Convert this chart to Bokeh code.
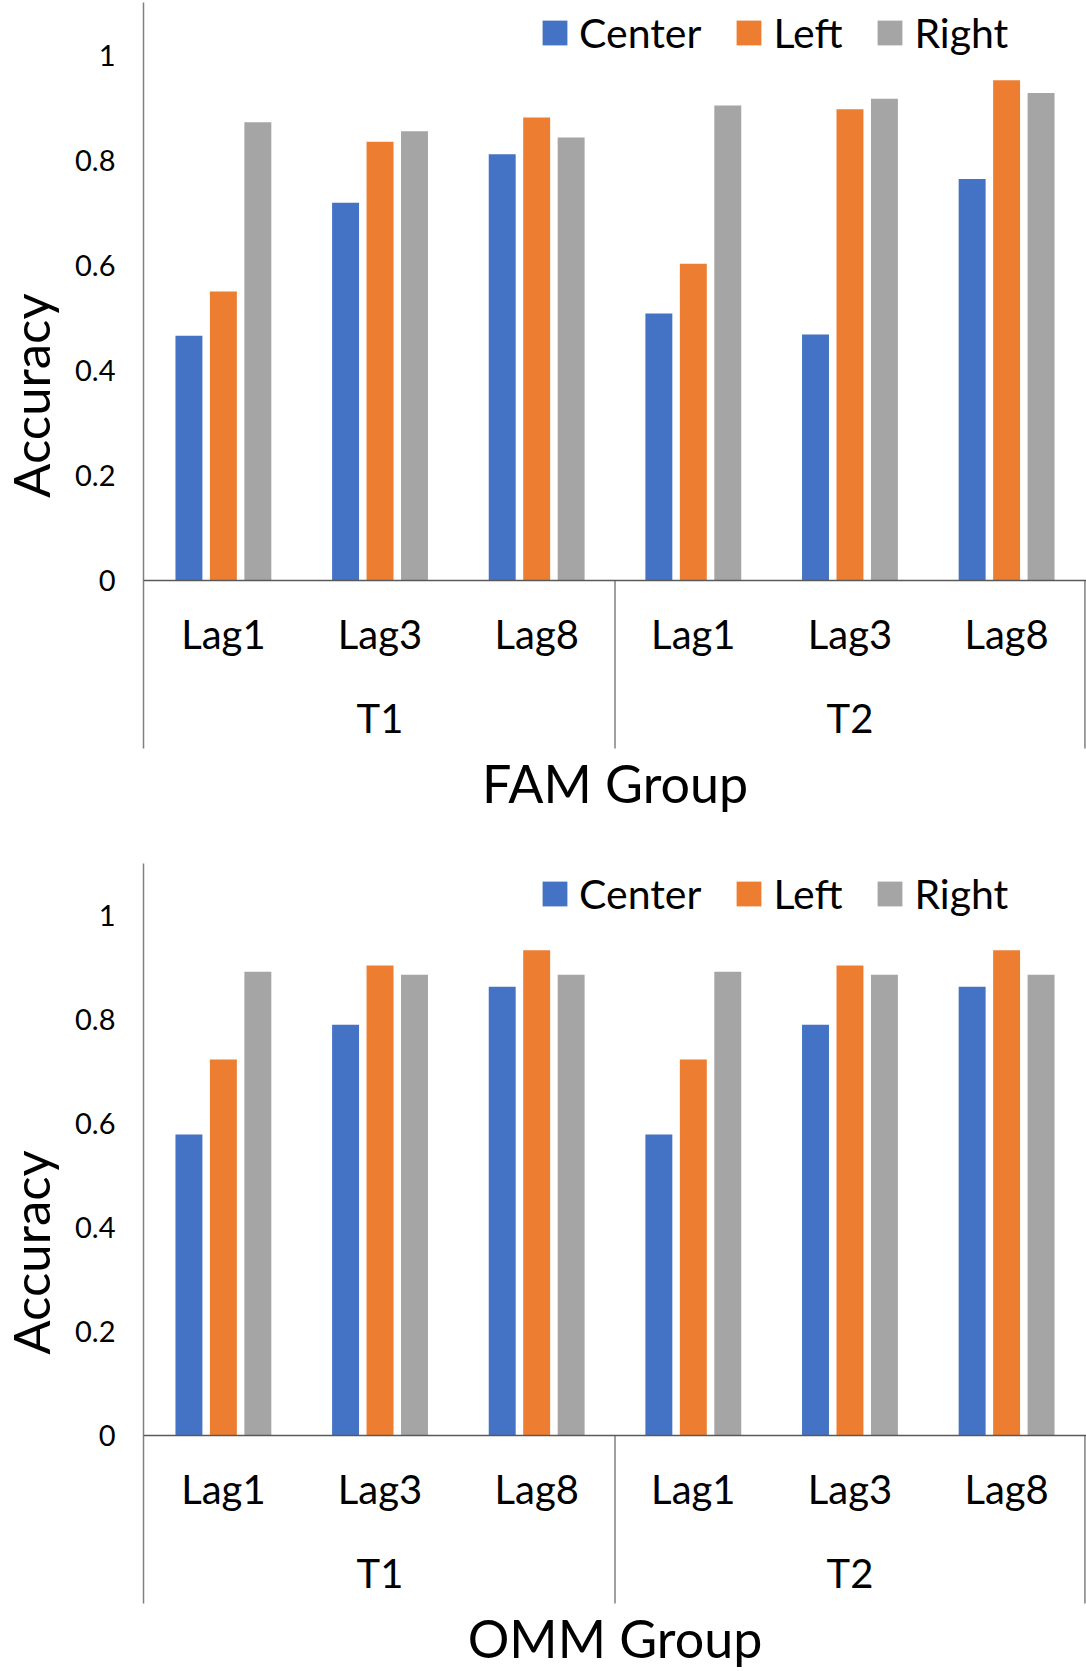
from math import pi

from bokeh.core.properties import value
from bokeh.embed import file_html
from bokeh.layouts import column, row
from bokeh.models import (ColumnDataSource, CustomJSTickFormatter, FactorRange,
                          FixedTicker, Label, Legend, LegendItem, Range1d, Span)
from bokeh.plotting import figure
from bokeh.resources import INLINE
from bokeh.transform import dodge

# ---- data -------------------------------------------------------------
sessions = ["T1", "T2"]
lags = ["Lag1", "Lag3", "Lag8"]
series = ["Center", "Left", "Right"]
series_colors = ["#4472C4", "#ED7D31", "#A5A5A5"]

y_ticks = [0, 0.2, 0.4, 0.6, 0.8, 1.0]
y_tick_labels = ["0", "0.2", "0.4", "0.6", "0.8", "1"]

# accuracy per (session, lag): T1 Lag1, T1 Lag3, T1 Lag8, T2 Lag1, T2 Lag3, T2 Lag8
fam_center = [0.466, 0.719, 0.811, 0.508, 0.468, 0.764]
fam_left = [0.550, 0.835, 0.881, 0.603, 0.897, 0.952]
fam_right = [0.872, 0.855, 0.843, 0.904, 0.917, 0.928]

omm_center = [0.579, 0.790, 0.863, 0.579, 0.790, 0.863]
omm_left = [0.723, 0.904, 0.933, 0.723, 0.904, 0.933]
omm_right = [0.892, 0.886, 0.886, 0.892, 0.886, 0.886]

FONT = "Lato"
AXIS_GREY = "#808080"
ZERO_GREY = "#595959"
PAGE_W = 1086
TITLE_W = 70          # strip that carries the rotated axis title


def make_panel(group_title, center, left, right, fig_h, top_border, unit_px):
    factors = [(s, l) for s in sessions for l in lags]
    n = len(factors)
    frame_h = fig_h - top_border
    y_top = 1.1
    y_bottom = y_top - frame_h / unit_px
    y_range = Range1d(y_bottom, y_top)

    def below(px):
        # distance in pixels under the zero line, expressed in data units
        return -px / unit_px

    # strip on the left with the value-axis title
    t = figure(width=TITLE_W, height=fig_h, x_range=Range1d(0, TITLE_W),
               y_range=y_range, output_backend="svg", toolbar_location=None,
               tools="", x_axis_location=None, y_axis_location=None,
               min_border_left=0, min_border_right=0,
               min_border_top=top_border, min_border_bottom=0)
    t.outline_line_color = None
    t.grid.visible = False
    t.add_layout(Label(x=30, y=0.352, text="Accuracy", angle=pi / 2,
                       text_align="center", text_baseline="alphabetic",
                       text_font=FONT, text_font_size="51px",
                       text_color="black"))

    x_range = FactorRange(*factors, factor_padding=0, group_padding=0,
                          subgroup_padding=0, range_padding=0.01,
                          range_padding_units="absolute")
    p = figure(width=PAGE_W - TITLE_W, height=fig_h, x_range=x_range,
               y_range=y_range,
               output_backend="svg", toolbar_location=None, tools="",
               x_axis_location=None,
               min_border_left=73, min_border_right=0,
               min_border_top=top_border, min_border_bottom=0)
    p.outline_line_color = None
    p.grid.visible = False
    p.background_fill_color = "white"
    p.border_fill_color = "white"

    # value axis
    ya = p.yaxis[0]
    ya.ticker = FixedTicker(ticks=y_ticks)
    ya.formatter = CustomJSTickFormatter(
        args=dict(tvals=y_ticks, tlabels=y_tick_labels),
        code="const i = tvals.indexOf(tick); return i >= 0 ? tlabels[i] : '';")
    ya.bounds = (below(168), y_top)
    ya.axis_line_color = AXIS_GREY
    ya.axis_line_width = 1.5
    ya.major_tick_line_color = None
    ya.minor_tick_line_color = None
    ya.major_tick_in = 0
    ya.major_tick_out = 0
    ya.major_label_standoff = 28
    ya.major_label_text_font = FONT
    ya.major_label_text_font_size = "29px"
    ya.major_label_text_color = "black"

    # bars
    src = ColumnDataSource(dict(x=factors, Center=center, Left=left, Right=right))
    offsets = [-0.22, 0.0, 0.22]
    items = []
    for name, color, off in zip(series, series_colors, offsets):
        r = p.vbar(x=dodge("x", off, range=p.x_range), top=name, bottom=0,
                   width=0.172, source=src, fill_color=color, line_color=None)
        items.append(LegendItem(label=name, renderers=[r]))

    # baseline
    p.add_layout(Span(location=0, dimension="width",
                      line_color=ZERO_GREY, line_width=1.5))

    # category separators under the baseline
    sep_x = [len(lags) * (i + 1) for i in range(len(sessions))]
    sep_src = ColumnDataSource(dict(x=sep_x, y0=[0] * len(sep_x),
                                    y1=[below(168)] * len(sep_x)))
    p.segment(x0="x", y0="y0", x1="x", y1="y1", source=sep_src,
              line_color=AXIS_GREY, line_width=1.5)

    # lag labels and session labels
    lag_src = ColumnDataSource(dict(x=factors, y=[below(53)] * n,
                                    text=[f[1] for f in factors]))
    p.text(x="x", y="y", text="text", source=lag_src, text_align="center",
           text_baseline="alphabetic", text_font=value(FONT),
           text_font_size="40px", text_color="black")
    ses_src = ColumnDataSource(dict(x=sessions, y=[below(137)] * len(sessions),
                                    text=sessions))
    p.text(x="x", y="y", text="text", source=ses_src, text_align="center",
           text_baseline="alphabetic", text_font=value(FONT),
           text_font_size="40px", text_color="black")

    # group title under the categories
    p.add_layout(Label(x=n / 2, y=below(202), text=group_title,
                       text_align="center", text_baseline="alphabetic",
                       text_font=FONT, text_font_size="52px",
                       text_color="black"))

    legend = Legend(items=items, orientation="horizontal",
                    location=(396, frame_h - 55),
                    glyph_width=31, glyph_height=31, label_standoff=9,
                    spacing=32, padding=0, margin=0,
                    border_line_color=None, background_fill_alpha=0,
                    label_text_font=FONT, label_text_font_size="41px",
                    label_text_color="black")
    p.add_layout(legend)
    return row(t, p, spacing=0)


top = make_panel("FAM Group", fam_center, fam_left, fam_right,
                 fig_h=830, top_border=2, unit_px=525.5)
bottom = make_panel("OMM Group", omm_center, omm_left, omm_right,
                    fig_h=841, top_border=33, unit_px=520.0)

page = column(top, bottom, spacing=0)
open("out.html", "w").write(file_html(page, INLINE))
